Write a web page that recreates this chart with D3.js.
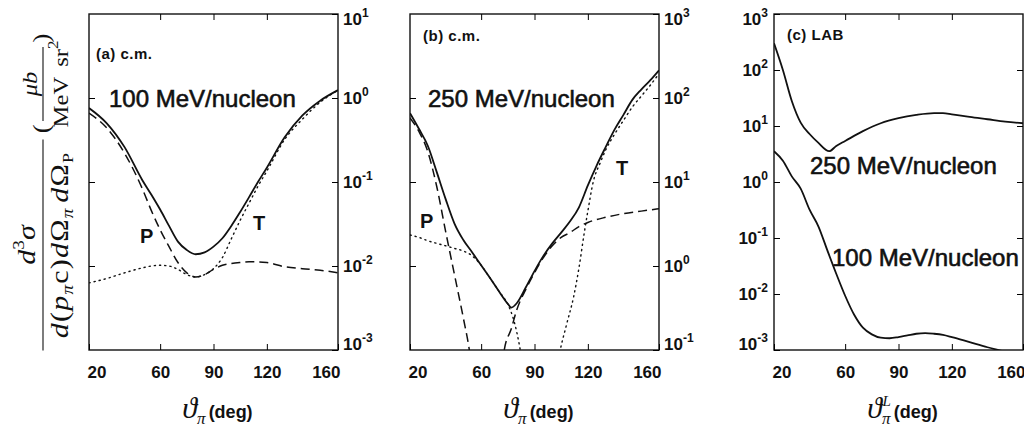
<!DOCTYPE html>
<html>
<head>
<meta charset="utf-8">
<script src="https://cdn.jsdelivr.net/npm/d3@7"></script>
<style>
body { margin: 0; background: #fff; }
svg { display: block; }
text { fill: #111; }
</style>
</head>
<body>
<svg width="1024" height="430"></svg>
<script>
// (a) 100 MeV/nucleon, c.m. frame
const angA = [20, 30, 40, 50, 55, 60, 65, 70, 75, 80, 85, 90, 95, 100, 105, 110, 115, 120, 130, 140, 150, 160];
const aTotal = [0.76, 0.50, 0.26, 0.105, 0.071, 0.047, 0.030, 0.0195, 0.0155, 0.0138, 0.0145, 0.017, 0.0214, 0.030, 0.044, 0.066, 0.10, 0.148, 0.34, 0.62, 0.93, 1.24];
const aProj = [0.66, 0.44, 0.22, 0.083, 0.046, 0.027, 0.017, 0.011, 0.0083, 0.0074, 0.0079, 0.0091, 0.0102, 0.0107, 0.011, 0.0112, 0.0112, 0.011, 0.0098, 0.0093, 0.0089, 0.0083];
const aTarg = [0.0063, 0.0071, 0.0083, 0.0095, 0.010, 0.0102, 0.010, 0.0091, 0.0079, 0.0074, 0.0079, 0.0093, 0.0126, 0.021, 0.035, 0.056, 0.089, 0.135, 0.32, 0.56, 0.89, 1.24];

// (b) 250 MeV/nucleon, c.m. frame
const angB = [20, 25, 30, 35, 40, 45, 50, 55, 60, 65, 70, 75, 77, 80, 85, 90, 95, 100, 105, 110, 115, 120, 125, 130, 135, 140, 145, 150, 155, 160];
const bTotal = [66, 43, 27, 13.2, 6.3, 3.2, 2.04, 1.45, 1.02, 0.72, 0.50, 0.355, 0.32, 0.36, 0.55, 0.87, 1.32, 1.86, 2.5, 3.4, 5.0, 9.1, 15.8, 26, 42, 63, 95, 126, 162, 214];
const angBdash = [20, 25, 30, 35, 40, 45, 50, 53, 56, 60, 65, 70, 73, 77, 80, 85, 90, 95, 100, 105, 110, 115, 120, 130, 140, 150, 160];
const bDash = [58, 40, 23, 8.9, 2.6, 0.79, 0.24, 0.112, 0.04, 0.01, 0.0063, 0.025, 0.1, 0.18, 0.30, 0.52, 0.83, 1.26, 1.74, 2.19, 2.5, 2.95, 3.3, 3.8, 4.2, 4.5, 4.8];
const angBdot = [20, 25, 30, 35, 40, 45, 50, 55, 60, 65, 70, 75, 78, 82, 86, 90, 95, 100, 104, 108, 112, 115, 118, 120, 123, 127, 130, 135, 140, 145, 150, 155, 160];
const bDot = [2.34, 2.19, 2.0, 1.86, 1.74, 1.62, 1.51, 1.32, 1.02, 0.72, 0.50, 0.35, 0.24, 0.1, 0.025, 0.0063, 0.0063, 0.025, 0.089, 0.2, 0.43, 0.95, 2.5, 4.5, 10, 17, 24, 37, 54, 78, 105, 141, 195];

// (c) LAB frame
const angC250 = [20, 25, 30, 35, 40, 45, 51, 55, 60, 70, 80, 90, 100, 110, 115, 120, 130, 140, 150, 160];
const c250 = [300, 100, 28, 11.5, 7.2, 5.0, 3.55, 4.4, 5.4, 8.1, 11.2, 13.8, 15.8, 17.0, 17.0, 16.2, 14.5, 13.2, 12.0, 11.2];
const angC100 = [20, 25, 30, 35, 40, 45, 50, 55, 60, 65, 70, 75, 80, 85, 90, 95, 100, 105, 110, 115, 120, 130, 140, 150, 160];
const c100 = [3.55, 2.4, 1.26, 0.76, 0.32, 0.16, 0.06, 0.023, 0.0093, 0.0043, 0.0025, 0.0019, 0.00166, 0.00162, 0.0017, 0.00182, 0.00195, 0.002, 0.00195, 0.00186, 0.0017, 0.00138, 0.00112, 0.00093, 0.00076];

const xTicks = [20, 60, 90, 120, 160];

const sans = "'Liberation Sans', Arial, Helvetica, sans-serif";
const serif = "'Liberation Serif', 'DejaVu Serif', serif";
const plotTop = 14, plotBottom = 350;
const svg = d3.select('svg');

const panels = [
  {id: 'a', x0: 89, x1: 338, yDomain: [1e-3, 1e1], labelSide: 'right',
   series: [
     {x: angA, y: aTotal, style: 'solid'},
     {x: angA, y: aProj, style: 'dash'},
     {x: angA, y: aTarg, style: 'dot'}],
   notes: [
     {t: '(a) c.m.', x: 96, y: 59, size: 15, bold: true},
     {t: '100 MeV/nucleon', x: 109, y: 107, size: 24},
     {t: 'P', x: 140, y: 243, size: 20, bold: true},
     {t: 'T', x: 253, y: 230, size: 20, bold: true}]},
  {id: 'b', x0: 410, x1: 659, yDomain: [1e-1, 1e3], labelSide: 'right',
   series: [
     {x: angB, y: bTotal, style: 'solid'},
     {x: angBdash, y: bDash, style: 'dash'},
     {x: angBdot, y: bDot, style: 'dot'}],
   notes: [
     {t: '(b) c.m.', x: 423, y: 41, size: 15, bold: true},
     {t: '250 MeV/nucleon', x: 428, y: 107, size: 24},
     {t: 'P', x: 420, y: 228, size: 20, bold: true},
     {t: 'T', x: 616, y: 175, size: 20, bold: true}]},
  {id: 'c', x0: 774, x1: 1023, yDomain: [1e-3, 1e3], labelSide: 'left', sup: true,
   series: [
     {x: angC250, y: c250, style: 'solid'},
     {x: angC100, y: c100, style: 'solid'}],
   notes: [
     {t: '(c) LAB', x: 787, y: 40, size: 15, bold: true},
     {t: '250 MeV/nucleon', x: 810, y: 174, size: 24},
     {t: '100 MeV/nucleon', x: 832, y: 266, size: 24}]}
];

panels.forEach(drawPanel);
drawYTitle();

function drawPanel(p) {
  const g = svg.append('g');
  const x = d3.scaleLinear().domain([20, 160]).range([p.x0, p.x1]);
  const y = d3.scaleLog().domain(p.yDomain).range([plotBottom, plotTop]);
  const decades = d3.range(Math.log10(p.yDomain[0]), Math.log10(p.yDomain[1]) + 1).map(e => Math.pow(10, e));

  g.append('clipPath').attr('id', 'clip-' + p.id)
    .append('rect').attr('x', p.x0).attr('y', plotTop).attr('width', p.x1 - p.x0).attr('height', plotBottom - plotTop);

  const line = d3.line().x(d => x(d[0])).y(d => y(d[1])).curve(d3.curveMonotoneX);
  p.series.forEach(s => {
    const path = g.append('path')
      .datum(d3.zip(s.x, s.y))
      .attr('clip-path', `url(#clip-${p.id})`)
      .attr('fill', 'none')
      .attr('stroke', '#111')
      .attr('d', line);
    if (s.style === 'solid') path.attr('stroke-width', 1.8);
    if (s.style === 'dash') path.attr('stroke-width', 1.5).attr('stroke-dasharray', '9,5');
    if (s.style === 'dot') path.attr('stroke-width', 1.4).attr('stroke-dasharray', '1.2,4').attr('stroke-linecap', 'round');
  });

  // frame
  g.append('rect').attr('x', p.x0).attr('y', plotTop).attr('width', p.x1 - p.x0).attr('height', plotBottom - plotTop)
    .attr('fill', 'none').attr('stroke', '#111').attr('stroke-width', 1.4);

  // x axes (ticks inside)
  const bx = g.append('g').attr('transform', `translate(0,${plotBottom})`)
    .call(d3.axisBottom(x).tickValues(xTicks).tickSize(-6).tickPadding(16).tickFormat(d3.format('d')))
    .attr('font-family', sans).attr('font-size', 17).attr('font-weight', 'bold');
  bx.select('.domain').remove();
  bx.selectAll('.tick text')
    .attr('text-anchor', d => d === 20 ? 'start' : d === 160 ? 'end' : 'middle')
    .attr('x', d => d === 20 ? -2 : d === 160 ? 2 : 0);
  const tx = g.append('g').attr('transform', `translate(0,${plotTop})`)
    .call(d3.axisTop(x).tickValues([60, 90, 120]).tickSize(-6).tickFormat(''));
  tx.select('.domain').remove();

  // y axes (ticks inside on both sides)
  const inner = decades.slice(1, -1);
  const labAxis = p.labelSide === 'right'
    ? d3.axisRight(y).tickValues(decades).tickSize(-6).tickPadding(5)
    : d3.axisLeft(y).tickValues(decades).tickSize(-6).tickPadding(6);
  const ly = g.append('g').attr('transform', `translate(${p.labelSide === 'right' ? p.x1 : p.x0},0)`)
    .call(labAxis)
    .attr('font-family', sans).attr('font-size', 17).attr('font-weight', 'bold');
  ly.select('.domain').remove();
  ly.selectAll('.tick text').each(function(d) {
    const t = d3.select(this).text(null);
    const e = Math.round(Math.log10(d));
    t.append('tspan').text('10');
    t.append('tspan').attr('dy', -8).attr('font-size', 12).text(e);
    if (d === decades[decades.length - 1]) t.attr('y', 5);
    if (d === decades[0]) t.attr('y', -6);
  });
  const oy = g.append('g').attr('transform', `translate(${p.labelSide === 'right' ? p.x0 : p.x1},0)`)
    .call((p.labelSide === 'right' ? d3.axisLeft(y) : d3.axisRight(y)).tickValues(inner).tickSize(-6).tickFormat(''));
  oy.select('.domain').remove();

  // annotations
  p.notes.forEach(n => {
    g.append('text').attr('x', n.x).attr('y', n.y)
      .attr('font-family', sans).attr('font-size', n.size)
      .attr('font-weight', n.bold ? 'bold' : 'normal')
      .attr('letter-spacing', n.size === 15 ? 0.5 : 0)
      .attr('stroke', n.bold ? 'none' : '#111')
      .attr('stroke-width', 0.6)
      .text(n.t);
  });

  // x title
  const t = g.append('text').attr('x', (p.x0 + p.x1) / 2 + 4).attr('y', 418).attr('text-anchor', 'middle');
  t.append('tspan').attr('font-family', serif).attr('font-style', 'italic').attr('font-size', 30).text('ϑ');
  t.append('tspan').attr('font-family', serif).attr('font-style', 'italic').attr('font-size', 17).attr('dy', 6).text('π');
  if (p.sup) {
    t.append('tspan').attr('font-family', serif).attr('font-style', 'italic').attr('font-size', 15)
      .attr('dx', -8).attr('dy', -18).text('L');
  }
  t.append('tspan').attr('font-family', sans).attr('font-weight', 'bold').attr('font-size', 18)
    .attr('dx', 3).attr('dy', p.sup ? 12 : -6).text('(deg)');
}

function drawYTitle() {
  // main fraction, rotated and stretched along the text direction
  const m = svg.append('g').attr('transform', 'translate(43,245) rotate(-90) scale(1.2,1)')
    .attr('font-family', serif).attr('font-size', 25);
  m.append('line').attr('x1', -88).attr('x2', 88).attr('stroke', '#111').attr('stroke-width', 1.1);
  const num = m.append('text').attr('x', 0).attr('y', -8).attr('text-anchor', 'middle');
  num.append('tspan').attr('font-style', 'italic').text('d');
  num.append('tspan').attr('font-size', 16).attr('dy', -11).text('3');
  num.append('tspan').attr('font-style', 'italic').attr('dy', 11).text('σ');
  const den = m.append('text').attr('x', 0).attr('y', 25).attr('text-anchor', 'middle').attr('letter-spacing', 1);
  den.append('tspan').attr('font-style', 'italic').text('d');
  den.append('tspan').text('(');
  den.append('tspan').attr('font-style', 'italic').text('p');
  den.append('tspan').attr('font-style', 'italic').attr('font-size', 16).attr('dy', 5).text('π');
  den.append('tspan').attr('dy', -5).text('c)');
  den.append('tspan').attr('font-style', 'italic').text('d');
  den.append('tspan').text('Ω');
  den.append('tspan').attr('font-style', 'italic').attr('font-size', 16).attr('dy', 5).text('π');
  den.append('tspan').attr('font-style', 'italic').attr('dy', -5).attr('dx', 4).text('d');
  den.append('tspan').text('Ω');
  den.append('tspan').attr('font-size', 15).attr('dy', 5).text('P');

  // units
  const u = svg.append('g').attr('transform', 'translate(43,84) rotate(-90) scale(1.12,1)')
    .attr('font-family', serif).attr('font-size', 22);
  u.append('line').attr('x1', -33).attr('x2', 33).attr('stroke', '#111').attr('stroke-width', 1.1);
  u.append('text').attr('x', 0).attr('y', -6).attr('text-anchor', 'middle').attr('font-style', 'italic').text('μb');
  const ud = u.append('text').attr('x', 0).attr('y', 25).attr('text-anchor', 'middle');
  ud.append('tspan').text('MeV');
  ud.append('tspan').attr('dx', 9).text('sr');
  ud.append('tspan').attr('font-size', 15).attr('dy', -10).text('2');
  u.append('text').attr('x', -40).attr('y', 6).attr('text-anchor', 'middle').attr('font-size', 24).text('(');
  u.append('text').attr('x', 41).attr('y', 6).attr('text-anchor', 'middle').attr('font-size', 24).text(')');
}
</script>
</body>
</html>
